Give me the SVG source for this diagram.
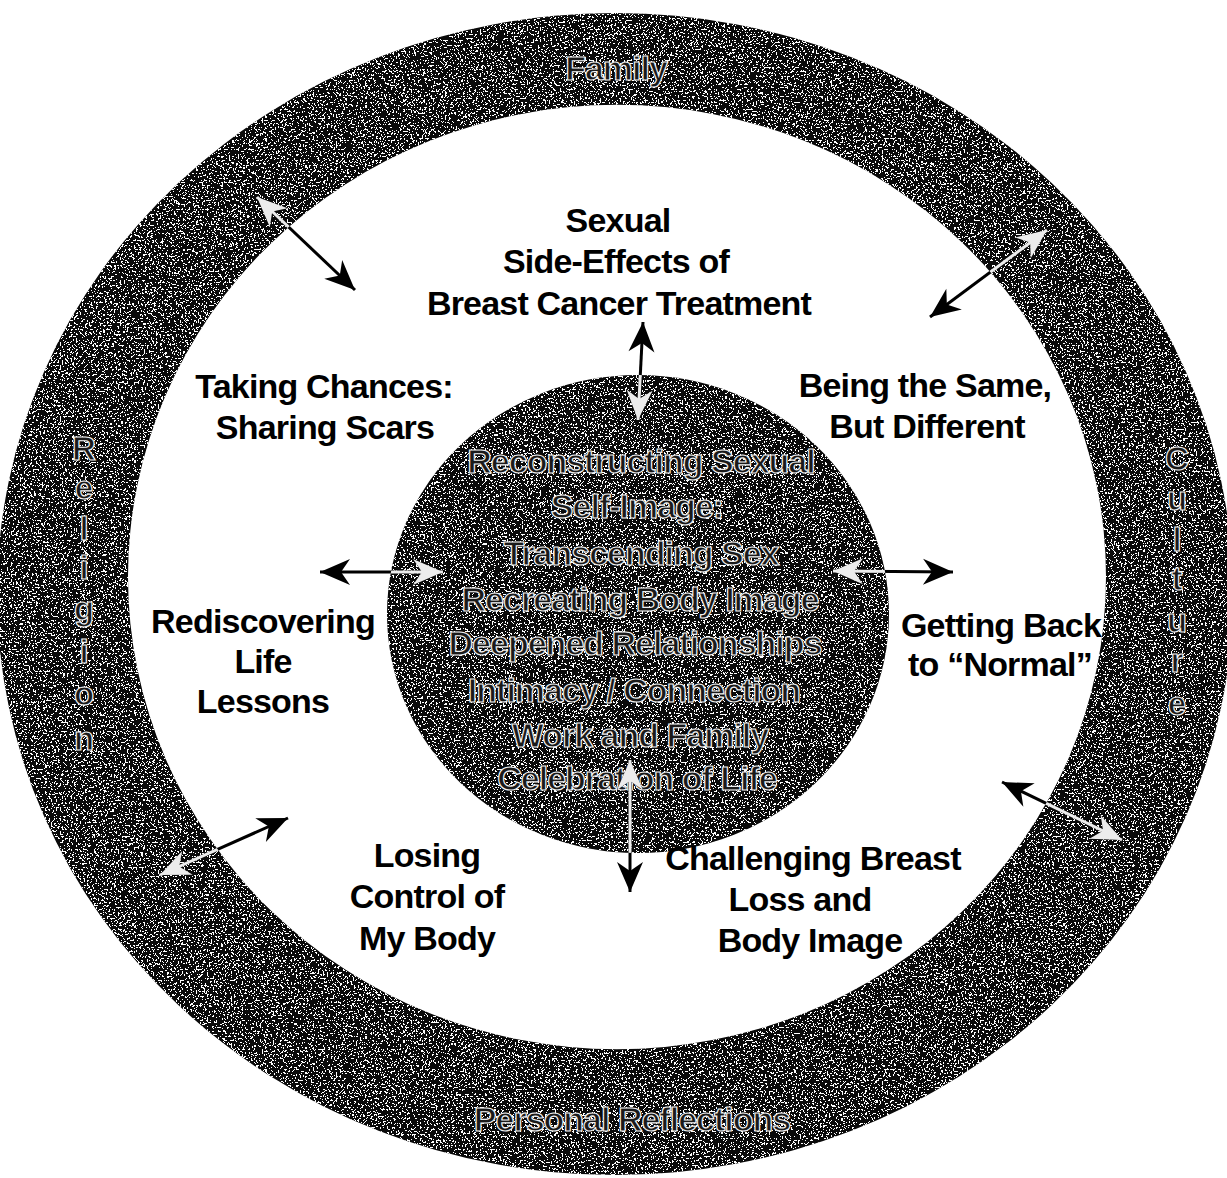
<svg xmlns="http://www.w3.org/2000/svg" xmlns:xlink="http://www.w3.org/1999/xlink" width="1227" height="1178" viewBox="0 0 1227 1178">
  <style>
    .lbl { font-family: "Liberation Sans", Arial, sans-serif; font-weight: bold; font-size: 34px; letter-spacing: -0.8px; fill: #000; text-anchor: middle; }
    .dk { font-family: "Liberation Sans", Arial, sans-serif; font-weight: bold; font-size: 34px; letter-spacing: -1px; fill: #1a1a1a; stroke: #efefef; stroke-width: 1.2px; text-anchor: middle; }
    .vert { font-family: "Liberation Sans", Arial, sans-serif; font-weight: bold; font-size: 33px; fill: #1a1a1a; stroke: #efefef; stroke-width: 1.2px; text-anchor: middle; }
    .dark { fill: #0a0a0a; }
    .arr { fill: none; stroke: #000000; stroke-width: 3; }
    .arrw { fill: none; stroke: #ececec; stroke-width: 3; }
  </style>
  <defs>
    <!-- sparse white specks used to give the dark bands their grainy look -->
    <filter id="speck" filterUnits="userSpaceOnUse" x="0" y="0" width="1227" height="1178">
      <feTurbulence type="fractalNoise" baseFrequency="0.55" numOctaves="2" seed="7" result="n"/>
      <feColorMatrix in="n" type="matrix" values="0 0 0 0 1  0 0 0 0 1  0 0 0 0 1  6 0 0 0 -3.1" result="m"/>
      <feComponentTransfer in="m" result="t"><feFuncA type="discrete" tableValues="0 1"/></feComponentTransfer>
      <feComposite in="t" in2="SourceGraphic" operator="in"/>
    </filter>
    <path id="ringShape" fill-rule="evenodd" d="M-3,594 a618,581 0 1 0 1236,0 a618,581 0 1 0 -1236,0 Z M128,577 a489,472 0 1 0 978,0 a489,472 0 1 0 -978,0 Z"/>
    <ellipse id="coreShape" cx="638" cy="614" rx="251" ry="239"/>
    <!-- the dark areas, where the links are drawn in light strokes -->
    <mask id="darkMask" maskUnits="userSpaceOnUse" x="0" y="0" width="1227" height="1178">
      <rect x="0" y="0" width="1227" height="1178" fill="#000"/>
      <path fill="#fff" fill-rule="evenodd" d="M-3,594 a618,581 0 1 0 1236,0 a618,581 0 1 0 -1236,0 Z M128,577 a489,472 0 1 0 978,0 a489,472 0 1 0 -978,0 Z"/>
      <ellipse fill="#fff" cx="638" cy="614" rx="251" ry="239"/>
    </mask>
    <marker id="hk" markerUnits="userSpaceOnUse" viewBox="-32 -15 34 30" refX="0" refY="0" markerWidth="34" markerHeight="30" orient="auto-start-reverse" overflow="visible">
      <path d="M0,0 L-30,-13 L-21,0 L-30,13 Z" fill="#000"/>
    </marker>
    <marker id="hw" markerUnits="userSpaceOnUse" viewBox="-32 -15 34 30" refX="0" refY="0" markerWidth="34" markerHeight="30" orient="auto-start-reverse" overflow="visible">
      <path d="M0,0 L-30,-13 L-21,0 L-30,13 Z" fill="#ececec"/>
    </marker>
  </defs>

  <rect width="1227" height="1178" fill="#fff"/>

  <!-- outer band of influences -->
  <g id="ring">
    <use xlink:href="#ringShape" class="dark"/>
    <use xlink:href="#ringShape" fill="#000" filter="url(#speck)"/>
    <text class="dk" x="616" y="80">Family</text>
    <text class="dk" x="632" y="1131">Personal Reflections</text>
    <g id="religion" class="vert">
      <text x="84" y="460">R</text>
      <text x="84" y="499">e</text>
      <text x="84" y="540">l</text>
      <text x="84" y="579">i</text>
      <text x="84" y="620">g</text>
      <text x="84" y="663">i</text>
      <text x="84" y="705">o</text>
      <text x="84" y="750">n</text>
    </g>
    <g id="culture" class="vert">
      <text x="1177" y="470">C</text>
      <text x="1177" y="510">u</text>
      <text x="1177" y="551">l</text>
      <text x="1177" y="590">t</text>
      <text x="1177" y="632">u</text>
      <text x="1177" y="672">r</text>
      <text x="1177" y="715">e</text>
    </g>
  </g>

  <!-- central core -->
  <g id="core">
    <use xlink:href="#coreShape" class="dark"/>
    <use xlink:href="#coreShape" fill="#000" filter="url(#speck)"/>
    <text class="dk" x="641" y="473">Reconstructing Sexual</text>
    <text class="dk" x="637" y="518">Self-Image:</text>
    <text class="dk" x="641" y="565">Transcending Sex</text>
    <text class="dk" x="640" y="611">Recreating Body Image</text>
    <text class="dk" x="635" y="655">Deepened Relationships</text>
    <text class="dk" x="634" y="702">Intimacy / Connection</text>
    <text class="dk" x="640" y="747">Work and Family</text>
    <text class="dk" x="637" y="790">Celebration of Life</text>
  </g>

  <!-- themes around the core -->
  <g id="sideEffects">
    <text class="lbl" x="618" y="232">Sexual</text>
    <text class="lbl" x="616" y="273">Side-Effects of</text>
    <text class="lbl" x="619" y="315">Breast Cancer Treatment</text>
  </g>
  <g id="takingChances">
    <text class="lbl" x="324" y="398">Taking Chances:</text>
    <text class="lbl" x="325" y="439">Sharing Scars</text>
  </g>
  <g id="beingSame">
    <text class="lbl" x="925" y="397">Being the Same,</text>
    <text class="lbl" x="927" y="438">But Different</text>
  </g>
  <g id="rediscovering">
    <text class="lbl" x="263" y="633">Rediscovering</text>
    <text class="lbl" x="263" y="673">Life</text>
    <text class="lbl" x="263" y="713">Lessons</text>
  </g>
  <g id="gettingBack">
    <text class="lbl" x="1001" y="637">Getting Back</text>
    <text class="lbl" x="1000" y="676">to “Normal”</text>
  </g>
  <g id="losingControl">
    <text class="lbl" x="427" y="867">Losing</text>
    <text class="lbl" x="427" y="908">Control of</text>
    <text class="lbl" x="427" y="950">My Body</text>
  </g>
  <g id="challenging">
    <text class="lbl" x="813" y="870">Challenging Breast</text>
    <text class="lbl" x="800" y="911">Loss and</text>
    <text class="lbl" x="810" y="952">Body Image</text>
  </g>

  <!-- two-way links between bands: dark over the white area, light over the dark bands -->
  <g id="connectors">
    <g id="linksBlack" class="arr" marker-start="url(#hk)" marker-end="url(#hk)">
      <line x1="257" y1="197" x2="355" y2="290"/>
      <line x1="1047" y1="230" x2="930" y2="317"/>
      <line x1="638" y1="420" x2="643" y2="322"/>
      <line x1="443" y1="572" x2="320" y2="572"/>
      <line x1="833" y1="571" x2="953" y2="572"/>
      <line x1="160" y1="875" x2="288" y2="818"/>
      <line x1="630" y1="760" x2="630" y2="892"/>
      <line x1="1122" y1="840" x2="1002" y2="782"/>
    </g>
    <g id="linksLight" mask="url(#darkMask)">
      <g class="arrw" marker-start="url(#hw)" marker-end="url(#hw)">
        <line x1="257" y1="197" x2="355" y2="290"/>
        <line x1="1047" y1="230" x2="930" y2="317"/>
        <line x1="638" y1="420" x2="643" y2="322"/>
        <line x1="443" y1="572" x2="320" y2="572"/>
        <line x1="833" y1="571" x2="953" y2="572"/>
        <line x1="160" y1="875" x2="288" y2="818"/>
        <line x1="630" y1="760" x2="630" y2="892"/>
        <line x1="1122" y1="840" x2="1002" y2="782"/>
      </g>
    </g>
  </g>
</svg>
